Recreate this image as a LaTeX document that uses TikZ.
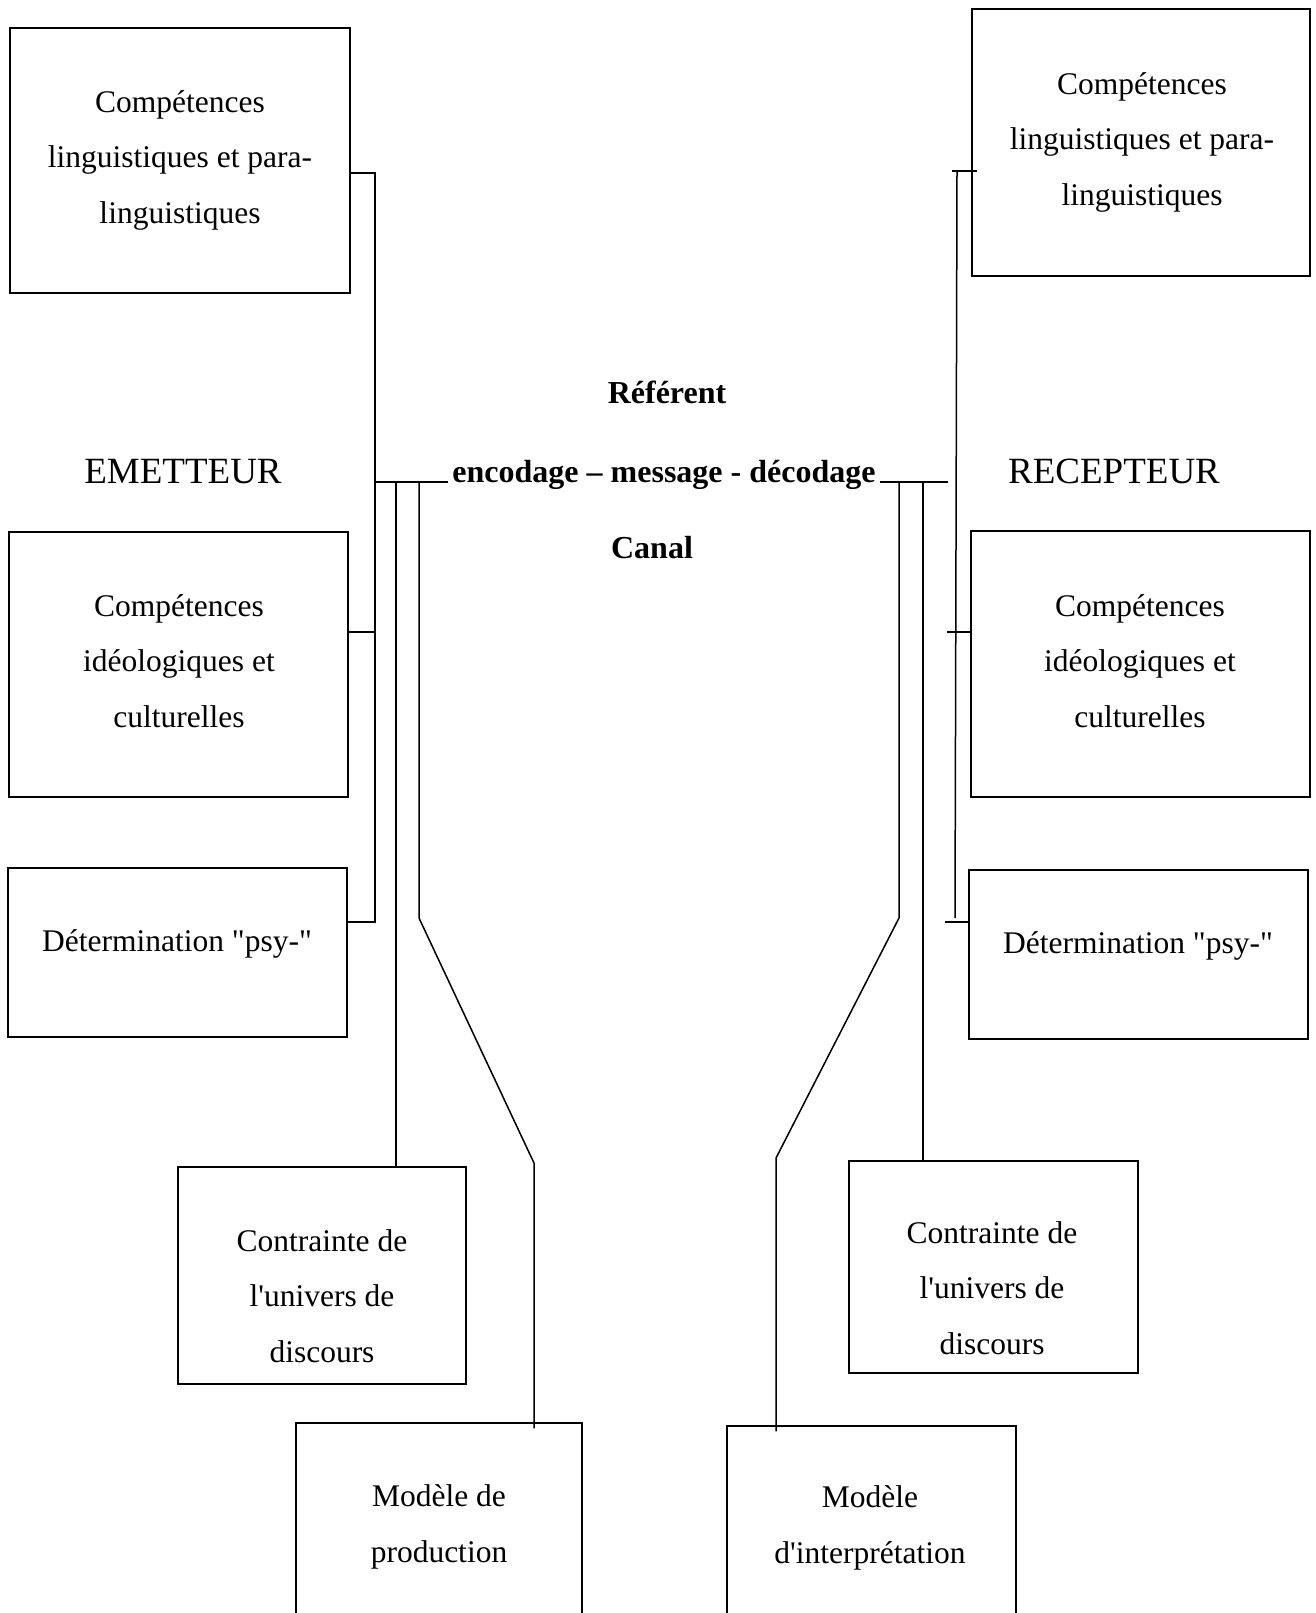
\documentclass[tikz,border=0pt]{standalone}
\usepackage{fontspec}
\setmainfont{Liberation Serif}
\usetikzlibrary{calc}
\begin{document}
\begin{tikzpicture}[x=1pt,y=-1pt,
  boxst/.style={draw, line width=1.5pt, inner sep=0pt},
  txt/.style={align=center, font=\fontsize{31.5}{55.5}\selectfont, inner sep=0pt},
  big/.style={font=\fontsize{37}{40}\selectfont, inner sep=0pt, anchor=base},
  bld/.style={font=\fontsize{32}{36}\selectfont\bfseries, inner sep=0pt, anchor=base},
  ln/.style={line width=1.5pt}]
\useasboundingbox (0,0) rectangle (1315,1613);
\clip (0,0) rectangle (1315,1613);
\fill[white] (0,0) rectangle (1315,1613);

% boxes, left
\node[boxst, minimum width=340pt, minimum height=265pt] (l1) at (180,160.5) {};
\node[boxst, minimum width=339pt, minimum height=265pt] (l2) at (178.5,664.5) {};
\node[boxst, minimum width=339pt, minimum height=169pt] (l3) at (177.5,952.5) {};
\node[boxst, minimum width=288pt, minimum height=217pt] (l4) at (322,1275.5) {};
\node[boxst, minimum width=286pt, minimum height=277pt] (l5) at (439,1561.5) {};
% boxes, right
\node[boxst, minimum width=338pt, minimum height=267pt] (r1) at (1141,142.5) {};
\node[boxst, minimum width=339pt, minimum height=266pt] (r2) at (1140.5,664) {};
\node[boxst, minimum width=339pt, minimum height=169pt] (r3) at (1138.5,954.5) {};
\node[boxst, minimum width=289pt, minimum height=212pt] (r4) at (993.5,1267) {};
\node[boxst, minimum width=289pt, minimum height=274pt] (r5) at (871.5,1563) {};

% box texts
\node[txt] (l1t) at (180,160) {Compétences\\linguistiques et para-\\linguistiques};
\node[txt] (l2t) at (179,661) {Compétences\\idéologiques et\\culturelles};
\node[txt] (l3t) at (177,944) {Détermination \textquotedbl psy-\textquotedbl};
\node[txt] (l4t) at (322,1296) {Contrainte de\\l\textquotesingle univers de\\discours};
\node[txt] (l5t) at (439,1527) {Modèle de\\production};
\node[txt] (r1t) at (1142,142) {Compétences\\linguistiques et para-\\linguistiques};
\node[txt] (r2t) at (1140,661) {Compétences\\idéologiques et\\culturelles};
\node[txt] (r3t) at (1138,946) {Détermination \textquotedbl psy-\textquotedbl};
\node[txt] (r4t) at (992,1288) {Contrainte de\\l\textquotesingle univers de\\discours};
\node[txt] (r5t) at (870,1528) {Modèle\\d\textquotesingle interprétation};

% central labels
\node[big] (em) at (183,483) {EMETTEUR};
\node[big] (rec) at (1114,483) {RECEPTEUR};
\node[bld] (ref) at (667,403) {Référent};
\node[bld, inner xsep=4pt] (msg) at (664,482) {encodage – message - décodage};
\node[bld] (can) at (652,558) {Canal};

% left connectors
\coordinate (LsT) at (375,173);
\coordinate (LsB) at (375,922);
\coordinate (Lj2) at (375,632);
\coordinate (Lh) at (375,482);
\draw[ln] (l1.east |- LsT) -- (LsT) -- (LsB) -- (l3.east |- LsB);
\draw[ln] (l2.east |- Lj2) -- (Lj2);
\draw[ln] (Lh) -- (msg.base west);
\coordinate (La) at (396,482);
\draw[ln] (La) -- (La |- l4.north);
\coordinate (Lb) at (419,482);
\coordinate (Lb1) at (419,918);
\coordinate (Lb2) at (534,1163);
\draw[ln] (Lb) -- (Lb1) -- (Lb2) -- ($(Lb2 |- l5.north)+(0,6)$);

% right connectors
\coordinate (RsT) at (957,171);
\coordinate (RsB) at (955,918);
\draw[ln] (RsT) -- (RsB);
\draw[ln] ($(RsT)+(-5,0)$) -- ($(r1.west |- RsT)+(6,0)$);
\coordinate (Rj2) at (947,632);
\draw[ln] (Rj2) -- (r2.west |- Rj2);
\coordinate (Rj3) at (945,922);
\draw[ln] (Rj3) -- (r3.west |- Rj3);
\coordinate (Rh) at (948,482);
\draw[ln] (msg.base east) -- (Rh);
\coordinate (Ra) at (923,482);
\draw[ln] (Ra) -- (Ra |- r4.north);
\coordinate (Rb) at (899,482);
\coordinate (Rb1) at (899,918);
\coordinate (Rb2) at (776,1158);
\draw[ln] (Rb) -- (Rb1) -- (Rb2) -- ($(Rb2 |- r5.north)+(0,6)$);
\end{tikzpicture}
\end{document}
